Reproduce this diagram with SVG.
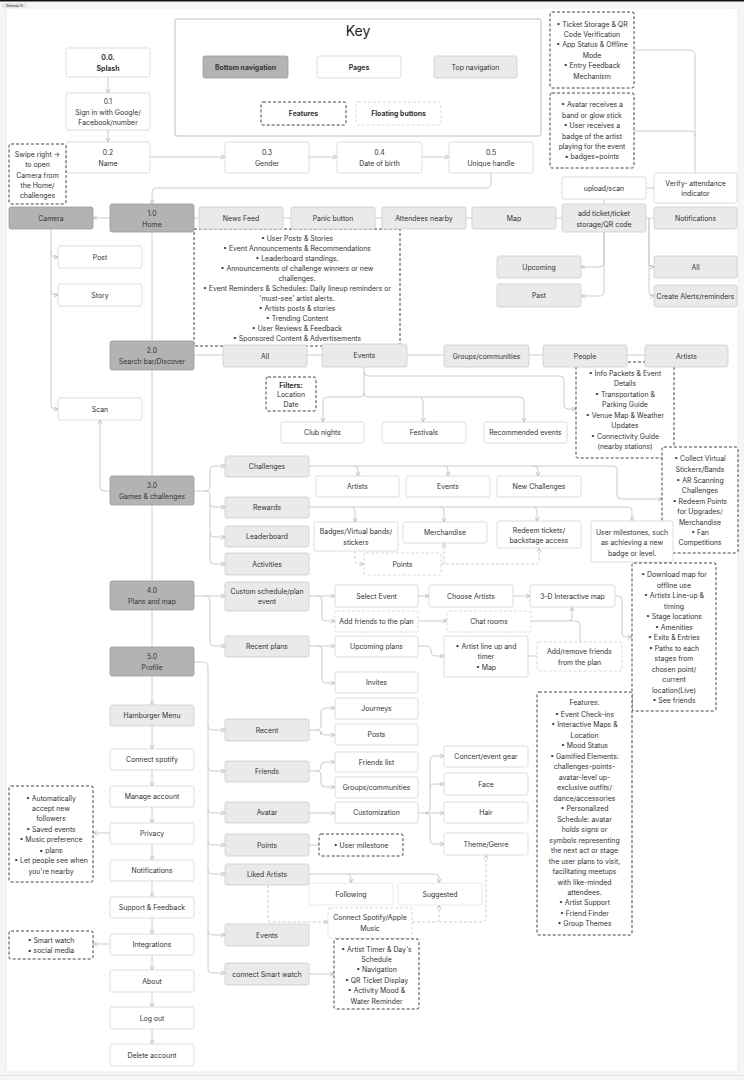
<svg xmlns="http://www.w3.org/2000/svg" width="744" height="1080" viewBox="0 0 744 1080">
<style>
text{font-family:Inter,"Liberation Sans",sans-serif;font-size:6.9px;fill:#333;text-anchor:middle;dominant-baseline:central}
.b{font-weight:bold}
.dk{fill:#b3b3b3;stroke:#9c9c9c;stroke-width:0.8}
.lt{fill:#eaeaea;stroke:#cdcdcd;stroke-width:0.8}
.wh{fill:#fff;stroke:#d4d4d4;stroke-width:0.8}
.ft{fill:#fff;stroke:#444;stroke-width:1;stroke-dasharray:3 2}
.fb{fill:#fff;stroke:#cfcfcf;stroke-width:0.8;stroke-dasharray:3 2}
.c path{fill:none;stroke:#c6c6c6;stroke-width:0.9}
.c .a{marker-end:url(#ar)}
.c .d{stroke-dasharray:3 2}
</style>
<defs>
<marker id="ar" viewBox="0 0 6 6" refX="5.5" refY="3" markerWidth="5" markerHeight="5" markerUnits="userSpaceOnUse" orient="auto"><path d="M0.5 0.5 L5.5 3 L0.5 5.5" fill="none" stroke="#b8b8b8" stroke-width="1"/></marker>
</defs>
<rect x="0" y="0" width="744" height="1080" fill="#f6f6f6"/>
<rect x="0" y="0" width="744" height="1.5" fill="#111"/>
<rect x="2" y="3" width="25" height="5" fill="#e6e6e6"/>
<text x="14.5" y="5.6" style="font-size:3.4px">Sitemap IA</text>
<rect x="6" y="8" width="732" height="1064" rx="4" fill="#fff" stroke="#ececec"/>

<g class="c" id="connectors">
<path class="a" d="M108 77 V93"/>
<path class="a" d="M108 130 V142"/>
<path class="a" d="M150 157 H225"/>
<path class="a" d="M309 157 H337"/>
<path class="a" d="M422 157 H449"/>
<path class="a" d="M491 173 V183 Q491 188 486 188 H157 Q152 188 152 193 V204"/>
<path class="a" d="M110 218 H93"/>
<path d="M194 218 H199 M283 218 H291 M375 218 H382 M466 218 H472 M556 218 H562"/>
<path d="M646 218 H654"/>
<path class="a" d="M649 218 V263 Q649 267 653 267 H654"/>
<path class="a" d="M649 218 V292 Q649 296 653 296 H654"/>
<path class="a" d="M604 232 V263 Q604 267 600 267 H581"/>
<path class="a" d="M604 232 V291 Q604 296 600 296 H581"/>
<path d="M604 199 V204"/>
<path d="M646 188 H654"/>
<path d="M634 50 H690 Q695 50 695 55 V173"/>
<path d="M634 131 H690 Q695 131 695 136"/>
<path d="M152 232 V647"/>
<path class="a" d="M152 676 V705"/>
<path class="a" d="M152 726 V749"/>
<path class="a" d="M152 770 V786"/>
<path class="a" d="M152 807 V823"/>
<path class="a" d="M152 844 V860"/>
<path class="a" d="M152 881 V897"/>
<path class="a" d="M152 918 V934"/>
<path class="a" d="M152 955 V970"/>
<path class="a" d="M152 992 V1007"/>
<path class="a" d="M152 1029 V1044"/>
<path class="a" d="M51 229 V253 Q51 257 55 257 H58"/>
<path class="a" d="M51 250 V291 Q51 295 55 295 H58"/>
<path class="a" d="M51 290 V405 Q51 409 55 409 H58"/>
<path class="a" d="M110 491 H104 Q100 491 100 487 V420"/>
<path d="M194 355 H223 M307 355 H322 M407 355 H444 M529 355 H543 M627 355 H645"/>
<path class="a" d="M364 367 V393 Q364 397 360 397 H327 Q323 397 323 401 V422"/>
<path class="a" d="M364 393 Q364 397 368 397 H419 Q423 397 423 401 V422"/>
<path class="a" d="M420 397 H520 Q524 397 524 401 V422"/>
<path class="a" d="M364 372 Q364 376 368 376 H560 Q564 376 564 380 V405 Q564 409 568 409 H576"/>
<path class="a" d="M194 491 H205 Q210 491 210 486 V470 Q210 466 214 466 H225"/>
<path class="a" d="M205 491 Q210 491 210 496 V560 Q210 564 214 564 H225"/>
<path class="a" d="M210 503 Q210 507 214 507 H225"/>
<path class="a" d="M210 533 Q210 537 214 537 H225"/>
<path class="a" d="M309 466 H613 Q617 466 617 470 V495 Q617 499 621 499 H662"/>
<path class="a" d="M354 466 Q358 466 358 470 V476"/>
<path class="a" d="M444 466 Q448 466 448 470 V476"/>
<path class="a" d="M534 466 Q538 466 538 470 V476"/>
<path class="a" d="M309 507 H628 Q632 507 632 511 V521"/>
<path class="a" d="M351 507 Q355 507 355 511 V522"/>
<path class="a" d="M440 507 Q444 507 444 511 V522"/>
<path class="a" d="M533 507 Q537 507 537 511 V521"/>
<path class="a d" d="M355 551 V560 Q355 564 359 564 H364"/>
<path class="a d" d="M441 564 H535 Q539 564 539 560 V548"/>
<path class="a d" d="M444 564 V543"/>
<path class="a" d="M194 596 H225"/>
<path class="a" d="M205 596 Q210 596 210 601 V642 Q210 646 214 646 H225"/>
<path class="a" d="M309 596 H335"/>
<path class="a" d="M318 596 Q322 596 322 600 V617 Q322 621 326 621 H335"/>
<path class="a" d="M418 596 H429"/>
<path class="a" d="M513 596 H530"/>
<path class="a" d="M418 621 H447"/>
<path class="a" d="M531 621 H568 Q572 621 572 617 V607"/>
<path d="M580 642 V625 Q580 621 576 621 H570"/>
<path class="a" d="M615 596 H618 Q622 596 622 600 V633 Q622 637 626 637 H632"/>
<path class="a" d="M309 646 H335"/>
<path class="a" d="M318 646 Q322 646 322 650 V679 Q322 683 326 683 H335"/>
<path class="a" d="M418 646 H426 Q431 646 431 651 Q431 656 436 656 H444"/>
<path d="M528 656 H537"/>
<path class="a" d="M194 662 H203 Q208 662 208 667 V969 Q208 973 212 973 H225"/>
<path class="a" d="M208 726 Q208 730 212 730 H225"/>
<path class="a" d="M208 767 Q208 771 212 771 H225"/>
<path class="a" d="M208 809 Q208 813 212 813 H225"/>
<path class="a" d="M208 841 Q208 845 212 845 H225"/>
<path class="a" d="M208 870 Q208 874 212 874 H225"/>
<path class="a" d="M208 931 Q208 935 212 935 H225"/>
<path class="a" d="M309 730 H316 Q321 730 321 725 V712 Q321 708 325 708 H335"/>
<path class="a" d="M316 730 Q321 730 321 735 V731 Q321 735 325 735 H335"/>
<path class="a" d="M309 771 H316 Q321 771 321 766 V766 Q321 762 325 762 H335"/>
<path class="a" d="M316 771 Q321 771 321 776 V783 Q321 787 325 787 H335"/>
<path class="a" d="M309 813 H335"/>
<path d="M309 845 H319"/>
<path class="a" d="M418 813 H425 Q430 813 430 808 V760 Q430 756 434 756 H444"/>
<path class="a" d="M430 788 Q430 784 434 784 H444"/>
<path class="a" d="M425 813 H444"/>
<path class="a" d="M425 813 Q430 813 430 818 V840 Q430 844 434 844 H444"/>
<path class="a" d="M309 874 H435 Q439 874 439 878 V883"/>
<path class="a" d="M347 874 Q351 874 351 878 V883"/>
<path class="a d" d="M268 885 V918 Q268 922 272 922 H328"/>
<path class="a d" d="M412 922 H435 Q439 922 439 918 V905"/>
<path class="a d" d="M439 922 H482 Q486 922 486 918 V855"/>
<path class="a" d="M309 974 H334"/>
<path class="a" d="M110 833 H93"/>
<path class="a" d="M110 944 H93"/>
</g>

<g id="key">
<rect x="175" y="19" width="366" height="117" rx="2" fill="#fff" stroke="#bdbdbd"/>
<text x="358" y="30" style="font-size:14px;fill:#222">Key</text>
<rect class="dk" x="203" y="56" width="85" height="22" rx="2"/><text class="b" x="245.5" y="67">Bottom navigation</text>
<rect class="wh" x="317" y="56" width="84" height="22" rx="2"/><text class="b" x="359" y="67">Pages</text>
<rect class="lt" x="434" y="56" width="83" height="22" rx="2"/><text x="475.5" y="67">Top navigation</text>
<rect class="ft" x="261" y="102" width="85" height="23" rx="2"/><text class="b" x="303.5" y="113.5">Features</text>
<rect class="fb" x="356" y="102" width="85" height="23" rx="2"/><text class="b" x="398.5" y="113.5">Floating buttons</text>
</g>

<g id="splash"><rect class="wh" x="66" y="48" width="84" height="29" rx="2"/><text class="b" x="108" y="57">0.0.</text><text class="b" x="108" y="68">Splash</text></g>
<g id="signin"><rect class="wh" x="66" y="93" width="84" height="37" rx="2"/><text x="108" y="101">0.1</text><text x="108" y="112">Sign in with Google/</text><text x="108" y="122">Facebook/number</text></g>
<g id="name"><rect class="wh" x="66" y="142" width="84" height="31" rx="2"/><text x="108" y="152">0.2</text><text x="108" y="163">Name</text></g>
<g id="gender"><rect class="wh" x="225" y="142" width="84" height="31" rx="2"/><text x="267" y="152">0.3</text><text x="267" y="163">Gender</text></g>
<g id="dob"><rect class="wh" x="337" y="142" width="85" height="31" rx="2"/><text x="379.5" y="152">0.4</text><text x="379.5" y="163">Date of birth</text></g>
<g id="handle"><rect class="wh" x="449" y="142" width="84" height="31" rx="2"/><text x="491" y="152">0.5</text><text x="491" y="163">Unique handle</text></g>
<g id="swipe"><rect class="ft" x="9" y="144" width="57" height="60" rx="2"/><text x="37.5" y="154">Swipe right →</text><text x="37.5" y="164.5">to open</text><text x="37.5" y="175">Camera from</text><text x="37.5" y="185">the Home/</text><text x="37.5" y="195.5">challenges</text></g>

<g id="newsfeed-features"><rect class="ft" x="194" y="229" width="206" height="117"/>
<text x="297" y="238">• User Posts &amp; Stories</text>
<text x="297" y="248">• Event Announcements &amp; Recommendations</text>
<text x="297" y="258">• Leaderboard standings.</text>
<text x="297" y="268">• Announcements of challenge winners or new</text>
<text x="297" y="278">challenges.</text>
<text x="297" y="288">• Event Reminders &amp; Schedules: Daily lineup reminders or</text>
<text x="297" y="298">'must-see' artist alerts.</text>
<text x="297" y="308">• Artists posts &amp; stories</text>
<text x="297" y="318">• Trending Content</text>
<text x="297" y="328">• User Reviews &amp; Feedback</text>
<text x="297" y="338">• Sponsored Content &amp; Advertisements</text>
</g>

<g id="camera"><rect class="dk" x="9" y="207" width="84" height="22" rx="2"/><text x="51" y="218">Camera</text></g>
<g id="home"><rect class="dk" x="110" y="204" width="84" height="28" rx="2"/><text x="152" y="213">1.0</text><text x="152" y="224">Home</text></g>
<g id="news"><rect class="lt" x="199" y="207" width="84" height="22" rx="2"/><text x="241" y="218">News Feed</text></g>
<g id="panic"><rect class="lt" x="291" y="207" width="84" height="22" rx="2"/><text x="333" y="218">Panic button</text></g>
<g id="attendees"><rect class="lt" x="382" y="207" width="84" height="22" rx="2"/><text x="424" y="218">Attendees nearby</text></g>
<g id="map"><rect class="lt" x="472" y="207" width="84" height="22" rx="2"/><text x="514" y="218">Map</text></g>
<g id="ticket"><rect class="lt" x="562" y="204" width="84" height="28" rx="2"/><text x="604" y="213">add ticket/ticket</text><text x="604" y="224">storage/QR code</text></g>
<g id="upload"><rect class="wh" x="562" y="177" width="84" height="22" rx="2"/><text x="604" y="188">upload/scan</text></g>
<g id="verify"><rect class="wh" x="654" y="173" width="83" height="30" rx="2"/><text x="695.5" y="183">Verify- attendance</text><text x="695.5" y="193">indicator</text></g>
<g id="notif-top"><rect class="lt" x="654" y="207" width="83" height="22" rx="2"/><text x="695.5" y="218">Notifications</text></g>
<g id="ticket-features"><rect class="ft" x="550" y="12" width="84" height="76" rx="2"/><text x="592" y="24">• Ticket Storage &amp; QR</text><text x="592" y="34">Code Verification</text><text x="592" y="44.5">• App Status &amp; Offline</text><text x="592" y="55">Mode</text><text x="592" y="65">• Entry Feedback</text><text x="592" y="76">Mechanism</text></g>
<g id="avatar-features"><rect class="ft" x="550" y="93" width="84" height="75" rx="2"/><text x="592" y="104">• Avatar receives a</text><text x="592" y="115">band or glow stick</text><text x="592" y="125">• User receives a</text><text x="592" y="136">badge of the artist</text><text x="592" y="146">playing for the event</text><text x="592" y="156">• badges=points</text></g>
<g id="upcoming"><rect class="lt" x="497" y="256" width="84" height="22" rx="2"/><text x="539" y="267">Upcoming</text></g>
<g id="past"><rect class="lt" x="497" y="284" width="84" height="23" rx="2"/><text x="539" y="295.5">Past</text></g>
<g id="notif-all"><rect class="lt" x="654" y="256" width="83" height="22" rx="2"/><text x="695.5" y="267">All</text></g>
<g id="alerts"><rect class="lt" x="654" y="285" width="83" height="22" rx="2"/><text x="695.5" y="296">Create Alerts/reminders</text></g>

<g id="post"><rect class="wh" x="58" y="246" width="84" height="22" rx="2"/><text x="100" y="257">Post</text></g>
<g id="story"><rect class="wh" x="58" y="284" width="84" height="22" rx="2"/><text x="100" y="295">Story</text></g>
<g id="scan"><rect class="wh" x="58" y="398" width="84" height="22" rx="2"/><text x="100" y="409">Scan</text></g>

<g id="search"><rect class="dk" x="110" y="341" width="84" height="29" rx="2"/><text x="152" y="350">2.0</text><text x="152" y="361">Search bar/Discover</text></g>
<g id="info-features"><rect class="ft" x="576" y="362" width="98" height="96" rx="2"/><text x="625" y="373">• Info Packets &amp; Event</text><text x="625" y="383.5">Details</text><text x="625" y="394">• Transportation &amp;</text><text x="625" y="404">Parking Guide</text><text x="625" y="415">• Venue Map &amp; Weather</text><text x="625" y="425">Updates</text><text x="625" y="436">• Connectivity Guide</text><text x="625" y="446">(nearby stations)</text></g>
<g id="s-all"><rect class="lt" x="223" y="345" width="84" height="22" rx="2"/><text x="265" y="356">All</text></g>
<g id="s-events"><rect class="lt" x="322" y="344" width="85" height="23" rx="2"/><text x="364.5" y="355.5">Events</text></g>
<g id="s-groups"><rect class="lt" x="444" y="345" width="85" height="22" rx="2"/><text x="486.5" y="356">Groups/communities</text></g>
<g id="s-people"><rect class="lt" x="543" y="345" width="84" height="22" rx="2"/><text x="585" y="356">People</text></g>
<g id="s-artists"><rect class="lt" x="645" y="345" width="83" height="22" rx="2"/><text x="686.5" y="356">Artists</text></g>
<g id="filters"><rect class="ft" x="266" y="377" width="50" height="34" rx="2"/><text class="b" x="291" y="385">Filters:</text><text x="291" y="394.5">Location</text><text x="291" y="404">Date</text></g>
<g id="club"><rect class="wh" x="281" y="422" width="83" height="21" rx="2"/><text x="322.5" y="432.5">Club nights</text></g>
<g id="festivals"><rect class="wh" x="382" y="422" width="84" height="21" rx="2"/><text x="424" y="432.5">Festivals</text></g>
<g id="recommended"><rect class="wh" x="484" y="422" width="83" height="21" rx="2"/><text x="525.5" y="432.5">Recommended events</text></g>

<g id="games"><rect class="dk" x="110" y="476" width="84" height="29" rx="2"/><text x="152" y="485">3.0</text><text x="152" y="496">Games &amp; challenges</text></g>
<g id="challenges"><rect class="lt" x="225" y="456" width="84" height="21" rx="2"/><text x="267" y="466.5">Challenges</text></g>
<g id="rewards"><rect class="lt" x="225" y="497" width="84" height="21" rx="2"/><text x="267" y="507.5">Rewards</text></g>
<g id="leaderboard"><rect class="lt" x="225" y="526" width="84" height="21" rx="2"/><text x="267" y="536.5">Leaderboard</text></g>
<g id="activities"><rect class="lt" x="225" y="553" width="84" height="22" rx="2"/><text x="267" y="564">Activities</text></g>
<g id="c-artists"><rect class="wh" x="316" y="476" width="83" height="21" rx="2"/><text x="357.5" y="486.5">Artists</text></g>
<g id="c-events"><rect class="wh" x="406" y="476" width="84" height="21" rx="2"/><text x="448" y="486.5">Events</text></g>
<g id="c-new"><rect class="wh" x="497" y="476" width="84" height="21" rx="2"/><text x="539" y="486.5">New Challenges</text></g>
<g id="badges"><rect class="wh" x="314" y="522" width="84" height="29" rx="2"/><text x="356" y="531">Badges/Virtual bands/</text><text x="356" y="542">stickers</text></g>
<g id="merch"><rect class="wh" x="403" y="522" width="84" height="21" rx="2"/><text x="445" y="532.5">Merchandise</text></g>
<g id="redeem"><rect class="wh" x="497" y="521" width="84" height="27" rx="2"/><text x="539" y="530">Redeem tickets/</text><text x="539" y="540">backstage access</text></g>
<g id="points"><rect class="fb" x="364" y="553" width="77" height="22" rx="2"/><text x="402.5" y="564">Points</text></g>
<g id="rewards-features"><rect class="ft" x="662" y="447" width="76" height="106" rx="2"/><text x="700" y="458">• Collect Virtual</text><text x="700" y="469">Stickers/Bands</text><text x="700" y="480">• AR Scanning</text><text x="700" y="490">Challenges</text><text x="700" y="501">• Redeem Points</text><text x="700" y="511">for Upgrades/</text><text x="700" y="522">Merchandise</text><text x="700" y="532">• Fan</text><text x="700" y="542">Competitions</text></g>
<g id="milestones"><rect class="wh" x="591" y="521" width="82" height="41" rx="2"/><text x="632" y="532">User milestones, such</text><text x="632" y="542">as achieving a new</text><text x="632" y="553">badge or level.</text></g>

<g id="plans"><rect class="dk" x="110" y="581" width="84" height="29" rx="2"/><text x="152" y="590">4.0</text><text x="152" y="601">Plans and map</text></g>
<g id="custom"><rect class="lt" x="225" y="582" width="84" height="29" rx="2"/><text x="267" y="591">Custom schedule/plan</text><text x="267" y="601.5">event</text></g>
<g id="recent-plans"><rect class="lt" x="225" y="636" width="84" height="21" rx="2"/><text x="267" y="646.5">Recent plans</text></g>
<g id="select-event"><rect class="wh" x="335" y="585" width="83" height="22" rx="2"/><text x="376.5" y="596">Select Event</text></g>
<g id="add-friends"><rect class="fb" x="335" y="611" width="83" height="21" rx="2"/><text x="376.5" y="621.5">Add friends to the plan</text></g>
<g id="choose-artists"><rect class="wh" x="429" y="585" width="84" height="22" rx="2"/><text x="471" y="596">Choose Artists</text></g>
<g id="chat"><rect class="fb" x="447" y="611" width="84" height="21" rx="2"/><text x="489" y="621.5">Chat rooms</text></g>
<g id="map3d"><rect class="wh" x="530" y="585" width="85" height="22" rx="2"/><text x="572.5" y="596">3-D Interactive map</text></g>
<g id="upcoming-plans"><rect class="wh" x="335" y="636" width="83" height="21" rx="2"/><text x="376.5" y="646.5">Upcoming plans</text></g>
<g id="lineup"><rect class="wh" x="444" y="636" width="84" height="41" rx="2"/><text x="486" y="646">• Artist line up and</text><text x="486" y="656.5">timer</text><text x="486" y="667">• Map</text></g>
<g id="add-remove"><rect class="fb" x="537" y="642" width="85" height="29" rx="2"/><text x="579.5" y="651.5">Add/remove friends</text><text x="579.5" y="662">from the plan</text></g>
<g id="invites"><rect class="wh" x="335" y="672" width="83" height="21" rx="2"/><text x="376.5" y="682.5">Invites</text></g>
<g id="map-features"><rect class="ft" x="632" y="563" width="84" height="148" rx="2"/><text x="674" y="574">• Download map for</text><text x="674" y="585">offline use</text><text x="674" y="595">• Artists Line-up &amp;</text><text x="674" y="606">timing</text><text x="674" y="616">• Stage locations</text><text x="674" y="627">• Amenities</text><text x="674" y="637">• Exits &amp; Entries</text><text x="674" y="648">• Paths to each</text><text x="674" y="658">stages from</text><text x="674" y="669">chosen point/</text><text x="674" y="679">current</text><text x="674" y="690">location(Live)</text><text x="674" y="700">• See friends</text></g>

<g id="profile"><rect class="dk" x="110" y="647" width="84" height="29" rx="2"/><text x="152" y="656">5.0</text><text x="152" y="667">Profile</text></g>
<g id="hamburger"><rect class="lt" x="110" y="705" width="84" height="21" rx="2"/><text x="152" y="715.5">Hamburger Menu</text></g>
<g id="spotify"><rect class="wh" x="110" y="749" width="84" height="21" rx="2"/><text x="152" y="759.5">Connect spotify</text></g>
<g id="manage"><rect class="wh" x="110" y="786" width="84" height="21" rx="2"/><text x="152" y="796.5">Manage account</text></g>
<g id="privacy"><rect class="wh" x="110" y="823" width="84" height="21" rx="2"/><text x="152" y="833.5">Privacy</text></g>
<g id="notifications"><rect class="wh" x="110" y="860" width="84" height="21" rx="2"/><text x="152" y="870.5">Notifications</text></g>
<g id="support"><rect class="wh" x="110" y="897" width="84" height="21" rx="2"/><text x="152" y="907.5">Support &amp; Feedback</text></g>
<g id="integrations"><rect class="wh" x="110" y="934" width="84" height="21" rx="2"/><text x="152" y="944.5">Integrations</text></g>
<g id="about"><rect class="wh" x="110" y="970" width="84" height="22" rx="2"/><text x="152" y="981">About</text></g>
<g id="logout"><rect class="wh" x="110" y="1007" width="84" height="22" rx="2"/><text x="152" y="1018">Log out</text></g>
<g id="delete"><rect class="wh" x="110" y="1044" width="84" height="22" rx="2"/><text x="152" y="1055">Delete account</text></g>
<g id="privacy-features"><rect class="ft" x="9" y="786" width="84" height="96" rx="2"/><text x="51" y="798">• Automatically</text><text x="51" y="808">accept new</text><text x="51" y="818.5">followers</text><text x="51" y="829">• Saved events</text><text x="51" y="839.5">• Music preference</text><text x="51" y="850">• plans</text><text x="51" y="860.5">• Let people see when</text><text x="51" y="871">you're nearby</text></g>
<g id="integrations-features"><rect class="ft" x="9" y="931" width="84" height="28" rx="2"/><text x="51" y="940">• Smart watch</text><text x="51" y="950.5">• social media</text></g>

<g id="p-recent"><rect class="lt" x="225" y="719" width="84" height="22" rx="2"/><text x="267" y="730">Recent</text></g>
<g id="p-friends"><rect class="lt" x="225" y="761" width="84" height="21" rx="2"/><text x="267" y="771.5">Friends</text></g>
<g id="p-avatar"><rect class="lt" x="225" y="802" width="84" height="21" rx="2"/><text x="267" y="812.5">Avatar</text></g>
<g id="p-points"><rect class="lt" x="225" y="834" width="84" height="22" rx="2"/><text x="267" y="845">Points</text></g>
<g id="p-liked"><rect class="lt" x="225" y="864" width="84" height="21" rx="2"/><text x="267" y="874.5">Liked Artists</text></g>
<g id="p-events"><rect class="lt" x="225" y="924" width="84" height="22" rx="2"/><text x="267" y="935">Events</text></g>
<g id="p-watch"><rect class="lt" x="225" y="963" width="84" height="22" rx="2"/><text x="267" y="974">connect Smart watch</text></g>
<g id="journeys"><rect class="wh" x="335" y="698" width="83" height="21" rx="2"/><text x="376.5" y="708.5">Journeys</text></g>
<g id="posts"><rect class="wh" x="335" y="724" width="83" height="21" rx="2"/><text x="376.5" y="734.5">Posts</text></g>
<g id="friends-list"><rect class="wh" x="335" y="752" width="83" height="20" rx="2"/><text x="376.5" y="762">Friends list</text></g>
<g id="groups"><rect class="wh" x="335" y="777" width="83" height="21" rx="2"/><text x="376.5" y="787.5">Groups/communities</text></g>
<g id="customization"><rect class="wh" x="335" y="802" width="83" height="21" rx="2"/><text x="376.5" y="812.5">Customization</text></g>
<g id="gear"><rect class="wh" x="444" y="746" width="84" height="21" rx="2"/><text x="486" y="756.5">Concert/event gear</text></g>
<g id="face"><rect class="wh" x="444" y="773" width="84" height="22" rx="2"/><text x="486" y="784">Face</text></g>
<g id="hair"><rect class="wh" x="444" y="802" width="84" height="21" rx="2"/><text x="486" y="812.5">Hair</text></g>
<g id="theme"><rect class="wh" x="444" y="833" width="84" height="22" rx="2"/><text x="486" y="844">Theme/Genre</text></g>
<g id="user-milestone"><rect class="ft" x="319" y="834" width="84" height="22" rx="2"/><text x="361" y="845">• User milestone</text></g>
<g id="following"><rect fill="#fff" stroke="#e4e4e4" stroke-width="0.8" x="309" y="883" width="84" height="22" rx="2"/><text x="351" y="894">Following</text></g>
<g id="suggested"><rect fill="#fff" stroke="#e4e4e4" stroke-width="0.8" x="398" y="883" width="84" height="22" rx="2"/><text x="440" y="894">Suggested</text></g>
<g id="connect-music"><rect class="fb" x="328" y="908" width="84" height="30" rx="2"/><text x="370" y="917.5">Connect Spotify/Apple</text><text x="370" y="928">Music</text></g>
<g id="watch-features"><rect class="ft" x="334" y="939" width="85" height="70" rx="2"/><text x="376.5" y="949">• Artist Timer &amp; Day's</text><text x="376.5" y="959.5">Schedule</text><text x="376.5" y="969.5">• Navigation</text><text x="376.5" y="980">• QR Ticket Display</text><text x="376.5" y="990.5">• Activity Mood &amp;</text><text x="376.5" y="1001">Water Reminder</text></g>
<g id="profile-features"><rect class="ft" x="537" y="692" width="95" height="243" rx="2"/>
<text x="584.5" y="702">Features:</text>
<text x="584.5" y="714">• Event Check-ins</text>
<text x="584.5" y="724">• Interactive Maps &amp;</text>
<text x="584.5" y="735">Location</text>
<text x="584.5" y="745">• Mood Status</text>
<text x="584.5" y="756">• Gamified Elements:</text>
<text x="584.5" y="766">challenges-points-</text>
<text x="584.5" y="777">avatar-level up-</text>
<text x="584.5" y="787">exclusive outfits/</text>
<text x="584.5" y="798">dance/accessories</text>
<text x="584.5" y="808">• Personalized</text>
<text x="584.5" y="819">Schedule: avatar</text>
<text x="584.5" y="829">holds signs or</text>
<text x="584.5" y="840">symbols representing</text>
<text x="584.5" y="850">the next act or stage</text>
<text x="584.5" y="861">the user plans to visit,</text>
<text x="584.5" y="871">facilitating meetups</text>
<text x="584.5" y="882">with like-minded</text>
<text x="584.5" y="892">attendees.</text>
<text x="584.5" y="902">• Artist Support</text>
<text x="584.5" y="913">• Friend Finder</text>
<text x="584.5" y="923">• Group Themes</text>
</g>
<rect x="0" y="1075" width="744" height="1" fill="#e2e2e2"/>
</svg>
